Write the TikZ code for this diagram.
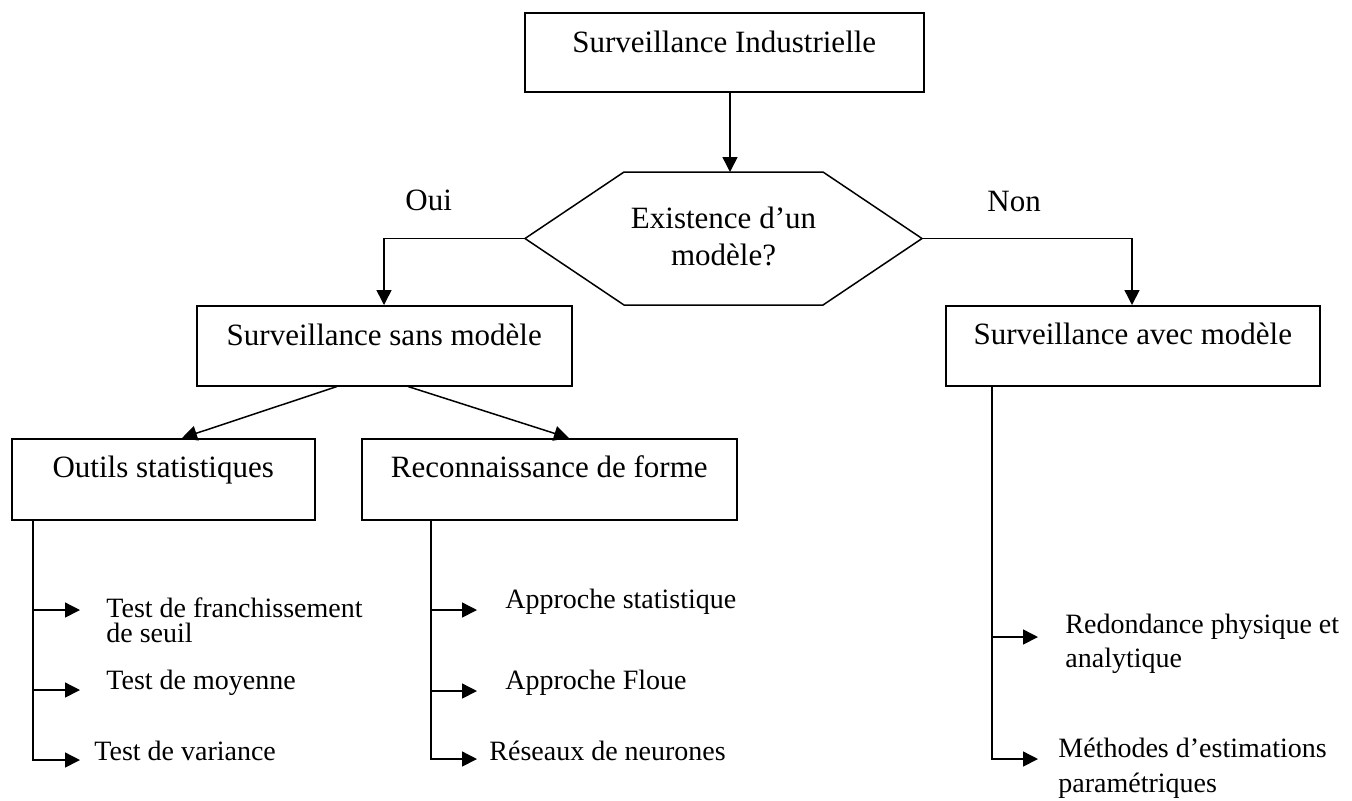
\documentclass[tikz,border=0pt]{standalone}
\usepackage{fontspec}
\setmainfont{Liberation Serif}
\usetikzlibrary{arrows.meta}

\begin{document}
\begin{tikzpicture}[x=0.5pt, y=-0.5pt,
  every node/.style={font=\fontsize{15.5}{17}\selectfont, inner sep=0pt},
  box/.style={draw, line width=0.75pt, rectangle, align=center},
  lbl/.style={anchor=base west},
  leaf/.style={anchor=base west, font=\fontsize{14}{17}\selectfont},
  conn/.style={line width=0.75pt},
  arr/.style={conn, -{Triangle[length=7.5pt, width=7.5pt]}}]

\useasboundingbox (0,0) rectangle (1352,800);

% boxes (text sits in the upper half of each box)
\node[box, anchor=north west, minimum width=199.5pt, text height=20pt, text depth=19.5pt]
  (top) at (524,12) {Surveillance Industrielle};
\node[box, anchor=north west, minimum width=187.5pt, text height=20pt, text depth=20pt]
  (sans) at (196,305) {Surveillance sans modèle};
\node[box, anchor=north west, minimum width=187pt, text height=19.5pt, text depth=20.5pt]
  (avec) at (945,305) {Surveillance avec modèle};
\node[box, anchor=north west, minimum width=151.5pt, text height=19.5pt, text depth=21pt]
  (outils) at (11,438) {Outils statistiques};
\node[box, anchor=north west, minimum width=187.5pt, text height=19.5pt, text depth=21pt]
  (reco) at (361,438) {Reconnaissance de forme};

% decision hexagon
\coordinate (hexL) at (525,238.5);
\coordinate (hexTL) at (624,172);
\coordinate (hexT) at (730,172);
\coordinate (hexTR) at (823,172);
\coordinate (hexR) at (922,238.5);
\coordinate (hexBR) at (823,305);
\coordinate (hexBL) at (624,305);
\draw[line width=0.75pt, line join=miter] (hexL) -- (hexTL) -- (hexTR) -- (hexR) -- (hexBR) -- (hexBL) -- cycle;
\node[anchor=base] (hex) at (723.5,228)
  {\begin{tabular}[t]{@{}c@{}}Existence d’un\\[1.5pt] modèle?\end{tabular}};

% branch labels
\node[lbl] (oui) at (405,210) {Oui};
\node[lbl] (non) at (987,211) {Non};

% main connectors
\draw[arr] (top.south -| hexT) -- (hexT);
\coordinate (ouiX) at (384,0);
\coordinate (nonX) at (1132,0);
\draw[arr] (hexL) -| (sans.north -| ouiX);
\draw[arr] (hexR) -| (avec.north -| nonX);

\coordinate (s1) at (337,0);
\coordinate (s2) at (408,0);
\coordinate (o1) at (182,0);
\coordinate (r1) at (569,0);
\draw[arr] (sans.south -| s1) -- (outils.north -| o1);
\draw[arr] (sans.south -| s2) -- (reco.north -| r1);

% leaf texts
\node[leaf] (t1) at (106,617) {\begin{tabular}[t]{@{}l@{}}Test de franchissement\\[-4.5pt] de seuil\end{tabular}};
\node[leaf] (t2) at (106,689) {Test de moyenne};
\node[leaf] (t3) at (94,760) {Test de variance};

\node[leaf] (f1) at (505,608) {Approche statistique};
\node[leaf] (f2) at (505,689) {Approche Floue};
\node[leaf] (f3) at (489,760) {Réseaux de neurones};

\node[leaf] (m1) at (1065,633) {\begin{tabular}[t]{@{}l@{}}Redondance physique et\\[0pt] analytique\end{tabular}};
\node[leaf] (m2) at (1058,757) {\begin{tabular}[t]{@{}l@{}}Méthodes d’estimations\\[0.5pt] paramétriques\end{tabular}};

% statistical tools branch
\coordinate (ox) at (33,0);
\coordinate (ta1) at (80,610);
\coordinate (ta2) at (80,690);
\coordinate (ta3) at (80,760);
\draw[arr] (outils.south -| ox) |- (ta3);
\draw[arr] (ta1 -| ox) -- (ta1);
\draw[arr] (ta2 -| ox) -- (ta2);

% pattern recognition branch
\coordinate (rx) at (431,0);
\coordinate (fa1) at (477,610);
\coordinate (fa2) at (477,691);
\coordinate (fa3) at (477,759);
\draw[arr] (reco.south -| rx) |- (fa3);
\draw[arr] (fa1 -| rx) -- (fa1);
\draw[arr] (fa2 -| rx) -- (fa2);

% model-based branch
\coordinate (ax) at (992,0);
\coordinate (ma1) at (1038,637);
\coordinate (ma2) at (1038,759);
\draw[arr] (avec.south -| ax) |- (ma2);
\draw[arr] (ma1 -| ax) -- (ma1);

\end{tikzpicture}
\end{document}
